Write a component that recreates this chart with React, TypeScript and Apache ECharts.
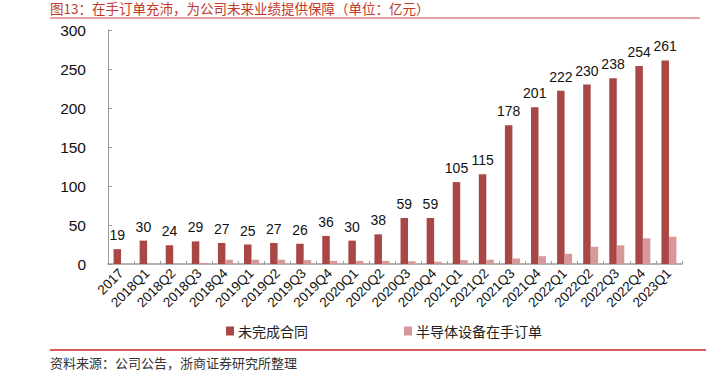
import React, { useEffect, useRef } from "react";
import * as echarts from "echarts";

const categories = [
  "2017", "2018Q1", "2018Q2", "2018Q3", "2018Q4",
  "2019Q1", "2019Q2", "2019Q3", "2019Q4",
  "2020Q1", "2020Q2", "2020Q3", "2020Q4",
  "2021Q1", "2021Q2", "2021Q3", "2021Q4",
  "2022Q1", "2022Q2", "2022Q3", "2022Q4", "2023Q1",
];
const unfinishedContracts = [19, 30, 24, 29, 27, 25, 27, 26, 36, 30, 38, 59, 59, 105, 115, 178, 201, 222, 230, 238, 254, 261];
const semiOrders = [0, 0.5, 0.5, 1.5, 5.5, 5.5, 5.5, 5, 4, 4, 4, 3.5, 3, 5, 5.5, 7, 10, 13, 22, 24, 33, 35];
const seriesNames = ["未完成合同", "半导体设备在手订单"];
const yTicks = { min: 0, max: 300, interval: 50 };
const titleText = "图13：在手订单充沛，为公司未来业绩提供保障（单位：亿元）";
const sourceText = "资料来源：公司公告，浙商证券研究所整理";

export default function App() {
  const ref = useRef<HTMLDivElement>(null);
  useEffect(() => {
    document.body.style.margin = "0";
    const chart = echarts.init(ref.current!, null, { renderer: "svg" });
    const cjk = "'Noto Sans CJK SC', sans-serif";
    const latin = "'Liberation Sans', Arial, sans-serif";
    chart.setOption({
      animation: false,
      backgroundColor: "#fff",
      grid: { left: 108, right: 32, top: 30, bottom: 123, containLabel: false },
      legend: {
        left: 221,
        top: 319,
        itemWidth: 8,
        itemHeight: 9,
        itemGap: 96,
        icon: "rect",
        textStyle: { fontFamily: cjk, fontSize: 14, color: "#222", padding: [0, 0, 0, -1] },
        data: seriesNames,
      },
      xAxis: {
        type: "category",
        data: categories,
        axisLine: { lineStyle: { color: "#9a9a9a", width: 1.5 } },
        axisTick: { show: true, inside: true, length: 3, lineStyle: { color: "#9a9a9a" } },
        axisLabel: {
          interval: 0,
          rotate: 45,
          fontFamily: latin,
          fontSize: 13.5,
          color: "#111",
          margin: 7,
        },
      },
      yAxis: {
        type: "value",
        min: yTicks.min,
        max: yTicks.max,
        interval: yTicks.interval,
        splitLine: { show: false },
        axisLine: { show: true, lineStyle: { color: "#9a9a9a", width: 1 } },
        axisTick: { show: true, inside: true, length: 4, lineStyle: { color: "#9a9a9a" } },
        axisLabel: { fontFamily: latin, fontSize: 15.5, color: "#111", margin: 22 },
      },
      series: [
        {
          name: seriesNames[0],
          type: "bar",
          data: unfinishedContracts,
          barWidth: 7.5,
          barGap: "0%",
          itemStyle: { color: "#A94646" },
          label: {
            show: true,
            position: "top",
            distance: 7,
            fontFamily: latin,
            fontSize: 14,
            color: "#111",
          },
        },
        {
          name: seriesNames[1],
          type: "bar",
          data: semiOrders,
          barWidth: 7.5,
          barGap: "0%",
          itemStyle: { color: "#D69898" },
        },
      ],
      graphic: [
        {
          type: "text",
          left: 50,
          top: 1,
          style: { text: titleText, fontFamily: cjk, fontSize: 13.5, lineHeight: 14, fill: "#C0392B" },
        },
        {
          type: "line",
          shape: { x1: 50, y1: 18, x2: 700, y2: 18 },
          style: { stroke: "#C8484A", lineWidth: 1 },
        },
        {
          type: "line",
          shape: { x1: 50, y1: 350, x2: 706, y2: 350 },
          style: { stroke: "#C8282A", lineWidth: 1.5 },
        },
        {
          type: "text",
          left: 50,
          top: 356,
          style: { text: sourceText, fontFamily: cjk, fontSize: 13, fill: "#333" },
        },
      ],
    });
    return () => chart.dispose();
  }, []);
  return <div ref={ref} style={{ width: 714, height: 387 }} />;
}
